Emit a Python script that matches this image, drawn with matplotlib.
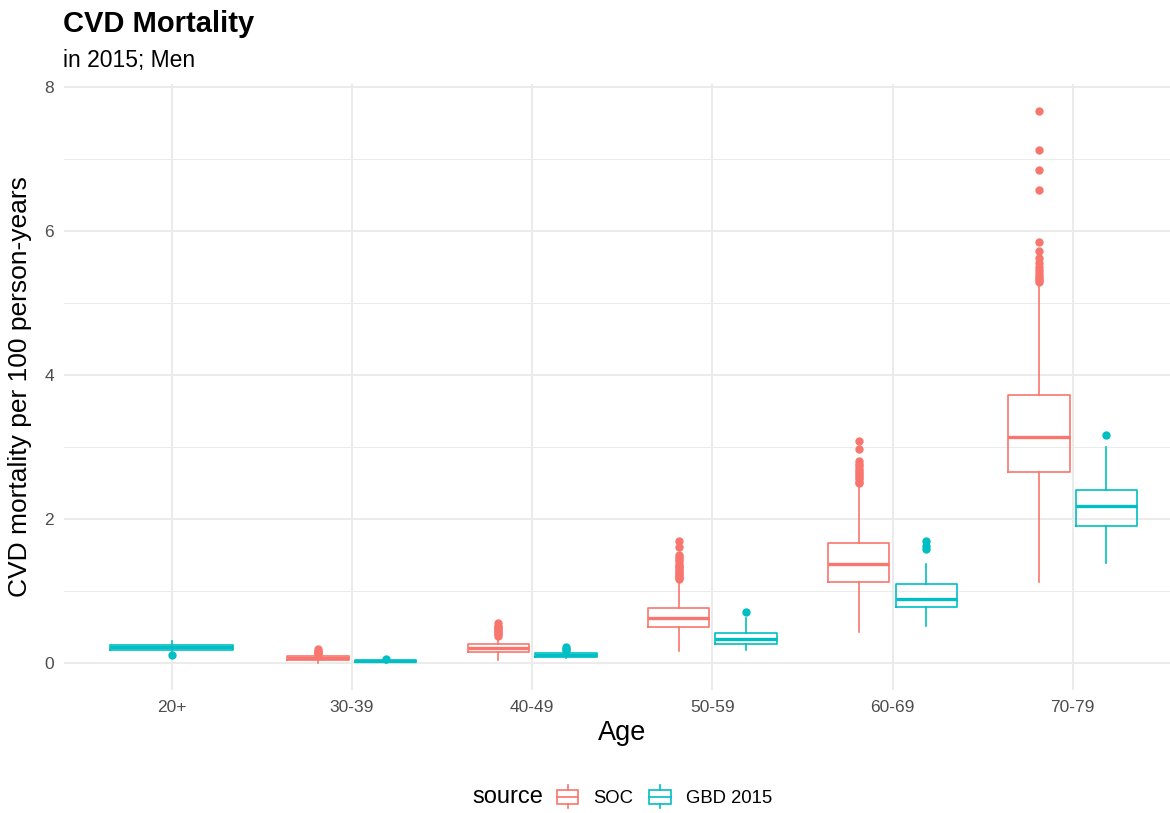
import matplotlib
matplotlib.use("Agg")
import matplotlib.pyplot as plt
from matplotlib.legend_handler import HandlerBase
from matplotlib.lines import Line2D
from matplotlib.patches import Patch, Rectangle

plt.rcParams["font.family"] = ["Liberation Sans", "DejaVu Sans"]

# --- data ---
ages = ["20+", "30-39", "40-49", "50-59", "60-69", "70-79"]

# SOC: no value for 20+
soc_ages = ["30-39", "40-49", "50-59", "60-69", "70-79"]
soc_whislo = [0.005, 0.04, 0.16, 0.435, 1.13]
soc_q1 = [0.04, 0.15, 0.50, 1.125, 2.65]
soc_med = [0.07, 0.21, 0.62, 1.375, 3.14]
soc_q3 = [0.10, 0.26, 0.77, 1.67, 3.72]
soc_whishi = [0.11, 0.35, 1.15, 2.45, 5.27]
soc_fliers = [
    [0.12, 0.14, 0.15, 0.17, 0.19],
    [0.38, 0.40, 0.42, 0.44, 0.46, 0.48, 0.50, 0.52, 0.55],
    [1.69, 1.61, 1.50, 1.47, 1.44, 1.41, 1.38, 1.35, 1.33, 1.30, 1.28,
     1.26, 1.24, 1.22, 1.20, 1.18, 1.17],
    [3.08, 2.97, 2.80, 2.76, 2.73, 2.70, 2.67, 2.64, 2.61, 2.58, 2.55,
     2.52, 2.50],
    [7.66, 7.125, 6.85, 6.57, 5.85, 5.72, 5.62, 5.55, 5.50, 5.46, 5.42,
     5.38, 5.35, 5.32, 5.29],
]

gbd_ages = ["20+", "30-39", "40-49", "50-59", "60-69", "70-79"]
gbd_whislo = [0.16, 0.005, 0.065, 0.18, 0.51, 1.385]
gbd_q1 = [0.18, 0.014, 0.08, 0.26, 0.78, 1.90]
gbd_med = [0.22, 0.03, 0.11, 0.33, 0.885, 2.185]
gbd_q3 = [0.25, 0.045, 0.135, 0.41, 1.10, 2.40]
gbd_whishi = [0.30, 0.05, 0.16, 0.63, 1.37, 3.00]
gbd_fliers = [
    [0.11],
    [0.06],
    [0.18, 0.20, 0.22],
    [0.71],
    [1.69, 1.62, 1.58],
    [3.16],
]

SOC_COLOR = "#F8766D"
GBD_COLOR = "#00BFC4"


def make_stats(lo, q1, med, q3, hi, fliers):
    return [dict(whislo=a, q1=b, med=c, q3=d, whishi=e, fliers=f)
            for a, b, c, d, e, f in zip(lo, q1, med, q3, hi, fliers)]


def draw_boxes(ax, stats, positions, widths, color):
    ax.bxp(stats, positions=positions, widths=widths, showcaps=False,
           boxprops=dict(color=color, linewidth=1.2),
           whiskerprops=dict(color=color, linewidth=1.2),
           medianprops=dict(color=color, linewidth=2.4, solid_capstyle="butt"),
           flierprops=dict(marker="o", markerfacecolor=color, markeredgecolor=color,
                           markersize=5, linestyle="none"),
           manage_ticks=False)


class BoxKey(HandlerBase):
    # small boxplot glyph, like the ggplot legend key
    def create_artists(self, legend, orig_handle, xdescent, ydescent, width, height, fontsize, trans):
        c = orig_handle.get_edgecolor()
        x0, y0 = -xdescent, -ydescent
        box = Rectangle((x0 + 0.03 * width, y0 + 0.15 * height), 0.94 * width, 0.7 * height,
                        fill=False, edgecolor=c, lw=1.2, transform=trans)
        med = Line2D([x0 + 0.03 * width, x0 + 0.97 * width], [y0 + 0.5 * height] * 2,
                     color=c, lw=1.2, transform=trans)
        lo = Line2D([x0 + 0.5 * width] * 2, [y0 - 0.1 * height, y0 + 0.15 * height],
                    color=c, lw=1.2, transform=trans)
        hi = Line2D([x0 + 0.5 * width] * 2, [y0 + 0.85 * height, y0 + 1.1 * height],
                    color=c, lw=1.2, transform=trans)
        return [box, med, lo, hi]


W, H = 1170, 813
fig = plt.figure(figsize=(W / 100, H / 100), dpi=100)
left_px, right_px, top_px, bot_px = 63.6, 1170, 84, 690
ax = fig.add_axes([left_px / W, 1 - bot_px / H, (right_px - left_px) / W, (bot_px - top_px) / H])

xpos = {a: i + 1 for i, a in enumerate(ages)}
dodge = 0.1875

soc_stats = make_stats(soc_whislo, soc_q1, soc_med, soc_q3, soc_whishi, soc_fliers)
draw_boxes(ax, soc_stats, [xpos[a] - dodge for a in soc_ages], 0.34, SOC_COLOR)

# 20+ has only the GBD box, so it takes the full dodge width
gbd_stats = make_stats(gbd_whislo, gbd_q1, gbd_med, gbd_q3, gbd_whishi, gbd_fliers)
gbd_pos = [xpos[a] + (0 if a not in soc_ages else dodge) for a in gbd_ages]
gbd_w = [0.68 if a not in soc_ages else 0.34 for a in gbd_ages]
draw_boxes(ax, gbd_stats, gbd_pos, gbd_w, GBD_COLOR)

ax.set_xlim(0.4, 1 + (1170 - 171.7) / 180.2)
ax.set_ylim(-0.375, 8.04)
ax.set_xticks(range(1, len(ages) + 1))
ax.set_xticklabels(ages)
ax.set_yticks([0, 2, 4, 6, 8])
ax.set_yticks([1, 3, 5, 7], minor=True)
ax.tick_params(axis="both", which="both", length=0, labelsize=12.5, labelcolor="#4D4D4D", pad=7)
ax.grid(True, which="major", color="#EBEBEB", linewidth=1.4)
ax.grid(True, which="minor", axis="y", color="#EBEBEB", linewidth=0.7)
ax.set_axisbelow(True)
for s in ax.spines.values():
    s.set_visible(False)

fig.text(63 / W, 1 - 24 / H, "CVD Mortality", fontsize=21, fontweight="bold", va="center", ha="left")
fig.text(63 / W, 1 - 60 / H, "in 2015; Men", fontsize=16.5, va="center", ha="left")
fig.text(20 / W, 1 - 387 / H, "CVD mortality per 100 person-years", fontsize=19,
         rotation=90, va="center", ha="center")
fig.text(622 / W, 1 - 733 / H, "Age", fontsize=19.5, va="center", ha="center")

# legend at the bottom, title to the left of the keys
fig.text(472 / W, 1 - 797 / H, "source", fontsize=17, va="center", ha="left")
handles = [Patch(edgecolor=SOC_COLOR, facecolor="none", label="SOC"),
           Patch(edgecolor=GBD_COLOR, facecolor="none", label="GBD 2015")]
fig.legend(handles=handles, handler_map={Patch: BoxKey()}, loc="center left",
           bbox_to_anchor=(556 / W, 1 - 797 / H), ncol=2, frameon=False, fontsize=13.3,
           handlelength=1.25, handleheight=1.25, handletextpad=0.75, columnspacing=0.85,
           borderpad=0, borderaxespad=0)

fig.savefig("out.png", dpi=100)
